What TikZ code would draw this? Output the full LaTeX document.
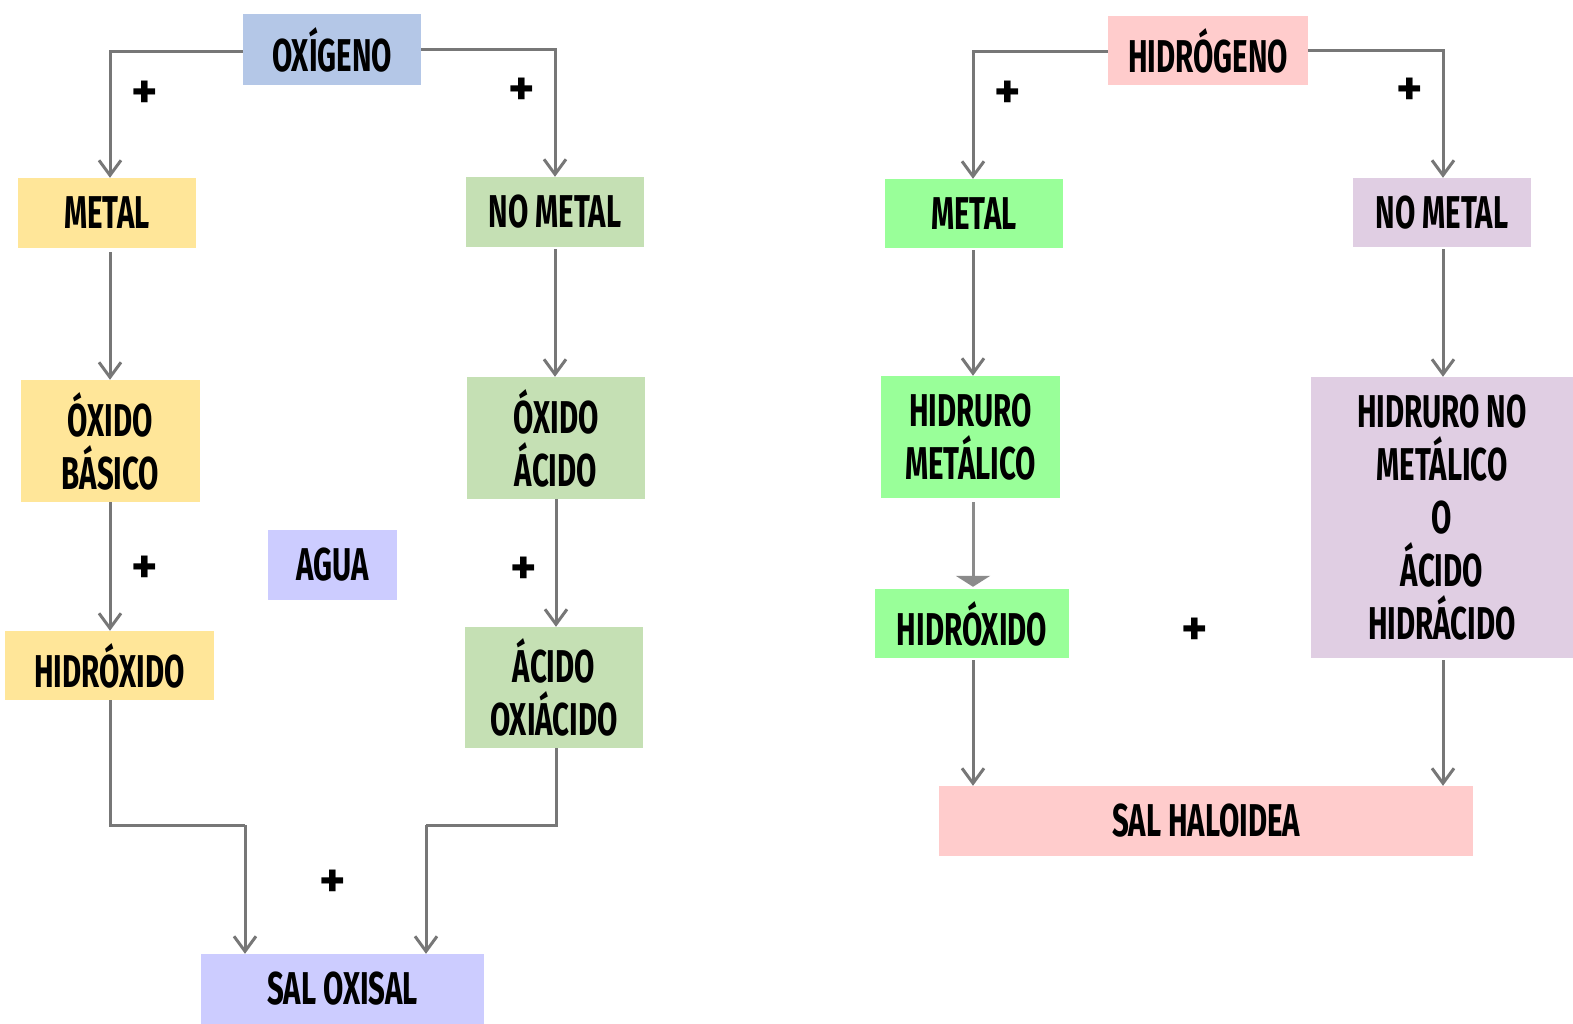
\documentclass[tikz,border=0pt]{standalone}
\usepackage{fontspec}
\setmainfont[FakeStretch=0.64]{Fira Sans}
\newfontfamily\plusfont{Fira Sans}
\usetikzlibrary{arrows.meta}

\definecolor{boxblue}{HTML}{B4C7E7}
\definecolor{boxyellow}{HTML}{FFE699}
\definecolor{boxgreen}{HTML}{C5E0B4}
\definecolor{boxlilac}{HTML}{CCCCFF}
\definecolor{boxpink}{HTML}{FFCCCC}
\definecolor{boxlime}{HTML}{99FF99}
\definecolor{boxmauve}{HTML}{E0CEE3}
\definecolor{linegray}{HTML}{777777}

\begin{document}
\begin{tikzpicture}[x=1pt, y=-1pt,
    box/.style = {inner sep=0pt, align=center, font=\fontsize{46}{53}\selectfont\bfseries},
    plus/.style = {yshift=-4pt, font=\plusfont\fontsize{50}{50}\selectfont\bfseries},
    arr/.style = {linegray, line width=3pt, -{Straight Barb[length=15pt,width=22pt]}},
    tri/.style = {linegray!85, line width=3pt, -{Triangle[length=11pt,width=34pt]}},
    link/.style = {linegray, line width=3pt}]
    \useasboundingbox (0,0) rectangle (1573,1023);

    % Oxygen side: boxes
    \node[box, fill=boxblue, minimum width=178pt, minimum height=71pt] (oxi) at (332,49.5) {OXÍGENO};
    \node[box, fill=boxyellow, minimum width=178pt, minimum height=70pt] (metO) at (107,213) {METAL};
    \node[box, fill=boxgreen, minimum width=178pt, minimum height=70pt] (nmetO) at (555,212) {NO METAL};
    \node[box, fill=boxyellow, minimum width=179pt, minimum height=122pt] (oxB) at (110.5,441) {ÓXIDO\\BÁSICO};
    \node[box, fill=boxgreen, minimum width=178pt, minimum height=122pt] (oxA) at (556,438) {ÓXIDO\\ÁCIDO};
    \node[box, fill=boxlilac, minimum width=129pt, minimum height=70pt] (agua) at (332.5,565) {AGUA};
    \node[box, fill=boxyellow, minimum width=209pt, minimum height=69pt] (hidO) at (109.5,665.5) {HIDRÓXIDO};
    \node[box, fill=boxgreen, minimum width=178pt, minimum height=121pt] (acO) at (554,687.5) {ÁCIDO\\OXIÁCIDO};
    \node[box, fill=boxlilac, minimum width=283pt, minimum height=70pt] (salO) at (342.5,989) {SAL OXISAL};

    % Hydrogen side: boxes
    \node[box, fill=boxpink, minimum width=200pt, minimum height=69pt] (hid) at (1208,50.5) {HIDRÓGENO};
    \node[box, fill=boxlime, minimum width=178pt, minimum height=69pt] (metH) at (974,213.5) {METAL};
    \node[box, fill=boxmauve, minimum width=178pt, minimum height=69pt] (nmetH) at (1442,212.5) {NO METAL};
    \node[box, fill=boxlime, minimum width=179pt, minimum height=122pt] (hmet) at (970.5,437) {HIDRURO\\METÁLICO};
    \node[box, fill=boxmauve, minimum width=262pt, minimum height=281pt] (hnmet) at (1442,517.5) {HIDRURO NO\\METÁLICO\\O\\ÁCIDO\\HIDRÁCIDO};
    \node[box, fill=boxlime, minimum width=194pt, minimum height=69pt] (hidH) at (972,623.5) {HIDRÓXIDO};
    \node[box, fill=boxpink, minimum width=534pt, minimum height=70pt] (salH) at (1206,821) {SAL HALOIDEA};

    % Plus signs
    \node[plus] (p1) at (145,91) {+};
    \node[plus] (p2) at (522,88) {+};
    \node[plus] (p3) at (145,566) {+};
    \node[plus] (p4) at (524,567) {+};
    \node[plus] (p5) at (333,880) {+};
    \node[plus] (p6) at (1008,91) {+};
    \node[plus] (p7) at (1410,88) {+};
    \node[plus] (p8) at (1195,628) {+};

    % Oxygen side: connectors
    \coordinate (cl) at (110,51);
    \coordinate (cr) at (555,49);
    \draw[arr] (oxi.west |- cl) -- (cl) -- (cl |- metO.north);
    \draw[arr] (oxi.east |- cr) -- (cr) -- (cr |- nmetO.north);
    \draw[arr, shorten <=4pt] (cl |- metO.south) -- (cl |- oxB.north);
    \draw[arr, shorten <=2pt] (cr |- nmetO.south) -- (cr |- oxA.north);
    \draw[arr] (cl |- oxB.south) -- (cl |- hidO.north);
    \draw[arr] (oxA.south) -- (oxA.south |- acO.north);
    \coordinate (jl) at (245,825);
    \coordinate (jr) at (426,825);
    \draw[link] (cl |- hidO.south) |- (jl);
    \draw[arr] (jl) -- (jl |- salO.north);
    \draw[link] (oxA.south |- acO.south) |- (jr);
    \draw[arr] (jr) -- (jr |- salO.north);

    % Hydrogen side: connectors
    \coordinate (hl) at (973,51);
    \coordinate (hr) at (1443,50);
    \draw[arr] (hid.west |- hl) -- (hl) -- (hl |- metH.north);
    \draw[arr] (hid.east |- hr) -- (hr) -- (hr |- nmetH.north);
    \draw[arr, shorten <=2pt] (hl |- metH.south) -- (hl |- hmet.north);
    \draw[arr, shorten <=2pt] (hr |- nmetH.south) -- (hr |- hnmet.north);
    \draw[tri, shorten <=4pt, shorten >=2pt] (hl |- hmet.south) -- (hl |- hidH.north);
    \draw[arr, shorten <=2pt] (hl |- hidH.south) -- (hl |- salH.north);
    \draw[arr, shorten <=2pt] (hr |- hnmet.south) -- (hr |- salH.north);
\end{tikzpicture}
\end{document}
